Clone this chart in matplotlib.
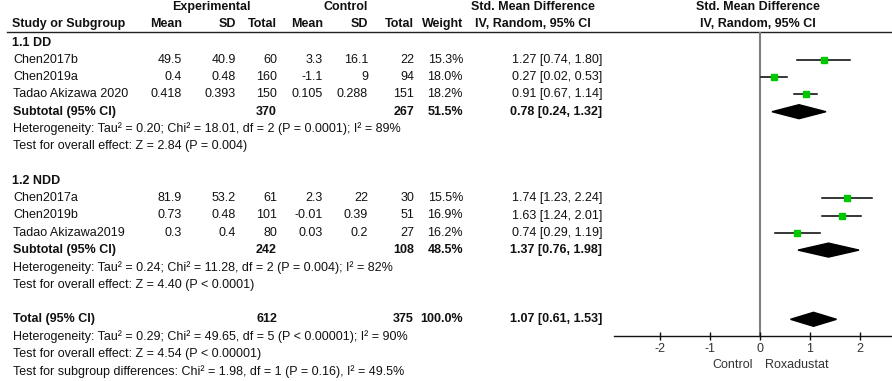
import matplotlib
matplotlib.use("Agg")
import matplotlib.pyplot as plt
from matplotlib.patches import Polygon

plt.rcParams['font.family'] = ['Liberation Sans', 'DejaVu Sans']

# ---------------- data ----------------
group_names = ["1.1 DD", "1.2 NDD"]
studies = [["Chen2017b", "Chen2019a", "Tadao Akizawa 2020"],
           ["Chen2017a", "Chen2019b", "Tadao Akizawa2019"]]
exp_mean = [["49.5", "0.4", "0.418"], ["81.9", "0.73", "0.3"]]
exp_sd = [["40.9", "0.48", "0.393"], ["53.2", "0.48", "0.4"]]
exp_n = [[60, 160, 150], [61, 101, 80]]
ctl_mean = [["3.3", "-1.1", "0.105"], ["2.3", "-0.01", "0.03"]]
ctl_sd = [["16.1", "9", "0.288"], ["22", "0.39", "0.2"]]
ctl_n = [[22, 94, 151], [30, 51, 27]]
weights = [[15.3, 18.0, 18.2], [15.5, 16.9, 16.2]]
smd = [[1.27, 0.27, 0.91], [1.74, 1.63, 0.74]]
ci_lo = [[0.74, 0.02, 0.67], [1.23, 1.24, 0.29]]
ci_hi = [[1.80, 0.53, 1.14], [2.24, 2.01, 1.19]]

sub_exp_n = [370, 242]
sub_ctl_n = [267, 108]
sub_weight = [51.5, 48.5]
sub_smd = [0.78, 1.37]
sub_lo = [0.24, 0.76]
sub_hi = [1.32, 1.98]
sub_het = ["Heterogeneity: Tau² = 0.20; Chi² = 18.01, df = 2 (P = 0.0001); I² = 89%",
           "Heterogeneity: Tau² = 0.24; Chi² = 11.28, df = 2 (P = 0.004); I² = 82%"]
sub_test = ["Test for overall effect: Z = 2.84 (P = 0.004)",
            "Test for overall effect: Z = 4.40 (P < 0.0001)"]

tot_exp_n = 612
tot_ctl_n = 375
tot_weight = 100.0
tot_smd = 1.07
tot_lo = 0.61
tot_hi = 1.53
tot_lines = ["Heterogeneity: Tau² = 0.29; Chi² = 49.65, df = 5 (P < 0.00001); I² = 90%",
             "Test for overall effect: Z = 4.54 (P < 0.00001)",
             "Test for subgroup differences: Chi² = 1.98, df = 1 (P = 0.16), I² = 49.5%"]

xticks = [-2, -1, 0, 1, 2]
favours = ["Control", "Roxadustat"]

# ---------------- layout ----------------
W, H = 892, 381
fig = plt.figure(figsize=(W / 100, H / 100), dpi=100)
ax = fig.add_axes([0, 0, 1, 1])
ax.set_xlim(0, W)
ax.set_ylim(H, 0)
ax.axis('off')

FS = 9
TC = '#111111'
x_name = 13
x_emean, x_esd, x_en = 182, 236, 277
x_cmean, x_csd, x_cn = 323, 368, 414
x_w = 463
x_ci = 602


def t(x, y, s, ha='left', bold=False, **kw):
    ax.text(x, y, s, ha=ha, va='center', fontsize=FS, color=TC,
            fontweight='bold' if bold else 'normal', **kw)


# headers
t(211, 7, "Experimental", ha='center', bold=True)
t(346, 7, "Control", ha='center', bold=True)
t(533, 7, "Std. Mean Difference", ha='center', bold=True)
t(758, 7, "Std. Mean Difference", ha='center', bold=True)
t(12, 24, "Study or Subgroup", bold=True)
t(x_emean, 24, "Mean", ha='right', bold=True)
t(x_esd, 24, "SD", ha='right', bold=True)
t(x_en, 24, "Total", ha='right', bold=True)
t(x_cmean, 24, "Mean", ha='right', bold=True)
t(x_csd, 24, "SD", ha='right', bold=True)
t(x_cn, 24, "Total", ha='right', bold=True)
t(x_w, 24, "Weight", ha='right', bold=True)
t(533, 24, "IV, Random, 95% CI", ha='center', bold=True)
t(758, 24, "IV, Random, 95% CI", ha='center', bold=True)
ax.plot([7, W], [31.5, 31.5], color='#222222', lw=1.0)

# forest axes (same vertical pixel coordinates)
AX_L, AX_R = 614, 892
AX_T, AX_B = 31.5, 336
fax = fig.add_axes([AX_L / W, 1 - AX_B / H, (AX_R - AX_L) / W, (AX_B - AX_T) / H])
px_per_unit = 50.0
x0_px = 760
fax.set_xlim((AX_L - x0_px) / px_per_unit, (AX_R - x0_px) / px_per_unit)
fax.set_ylim(AX_B, AX_T)
fax.patch.set_alpha(0)
for s in ['top', 'right', 'left']:
    fax.spines[s].set_visible(False)
fax.spines['bottom'].set_color('#111111')
fax.spines['bottom'].set_linewidth(1.0)
fax.set_yticks([])
fax.set_xticks(xticks)
fax.set_xticklabels([str(v) for v in xticks])
fax.tick_params(axis='x', direction='inout', length=6, width=1.0, color='#111111',
                labelsize=FS, labelcolor='#333333', pad=2)
fax.axvline(0, color='#808080', lw=1.5, zorder=1)

fig.text((x0_px - 7) / W, 1 - 365 / H, favours[0], ha='right', va='center',
         fontsize=FS, color='#333333')
fig.text((x0_px + 5) / W, 1 - 365 / H, favours[1], ha='left', va='center',
         fontsize=FS, color='#333333')

def diamond(y, c, lo, hi, h=7):
    fax.add_patch(Polygon([[lo, y], [c, y - h], [hi, y], [c, y + h]],
                          closed=True, color='black', zorder=3))

Y0, DY = 42.5, 17.3
row = 0
for g in range(2):
    y = Y0 + DY * row
    t(12, y, group_names[g], bold=True)
    row += 1
    for i in range(3):
        y = Y0 + DY * row
        t(x_name, y, studies[g][i])
        t(x_emean, y, exp_mean[g][i], ha='right')
        t(x_esd, y, exp_sd[g][i], ha='right')
        t(x_en, y, str(exp_n[g][i]), ha='right')
        t(x_cmean, y, ctl_mean[g][i], ha='right')
        t(x_csd, y, ctl_sd[g][i], ha='right')
        t(x_cn, y, str(ctl_n[g][i]), ha='right')
        t(x_w, y, f"{weights[g][i]:.1f}%", ha='right')
        t(x_ci, y, f"{smd[g][i]:.2f} [{ci_lo[g][i]:.2f}, {ci_hi[g][i]:.2f}]", ha='right')
        fax.plot([ci_lo[g][i], ci_hi[g][i]], [y, y], color='black', lw=1.1, zorder=2)
        fax.plot([smd[g][i]], [y], marker='s', color='#00C800', markeredgecolor='#00C800',
                 markersize=weights[g][i] / 4.0, zorder=4)
        row += 1
    y = Y0 + DY * row
    t(x_name, y, "Subtotal (95% CI)", bold=True)
    t(x_en, y, str(sub_exp_n[g]), ha='right', bold=True)
    t(x_cn, y, str(sub_ctl_n[g]), ha='right', bold=True)
    t(x_w, y, f"{sub_weight[g]:.1f}%", ha='right', bold=True)
    t(x_ci, y, f"{sub_smd[g]:.2f} [{sub_lo[g]:.2f}, {sub_hi[g]:.2f}]", ha='right', bold=True)
    diamond(y, sub_smd[g], sub_lo[g], sub_hi[g])
    row += 1
    t(x_name, Y0 + DY * row, sub_het[g])
    row += 1
    t(x_name, Y0 + DY * row, sub_test[g])
    row += 2

y = Y0 + DY * row
t(x_name, y, "Total (95% CI)", bold=True)
t(x_en, y, str(tot_exp_n), ha='right', bold=True)
t(x_cn, y, str(tot_ctl_n), ha='right', bold=True)
t(x_w, y, f"{tot_weight:.1f}%", ha='right', bold=True)
t(x_ci, y, f"{tot_smd:.2f} [{tot_lo:.2f}, {tot_hi:.2f}]", ha='right', bold=True)
diamond(y, tot_smd, tot_lo, tot_hi)
row += 1
for line in tot_lines:
    t(x_name, Y0 + DY * row, line)
    row += 1

fig.savefig("out.png", dpi=100)
